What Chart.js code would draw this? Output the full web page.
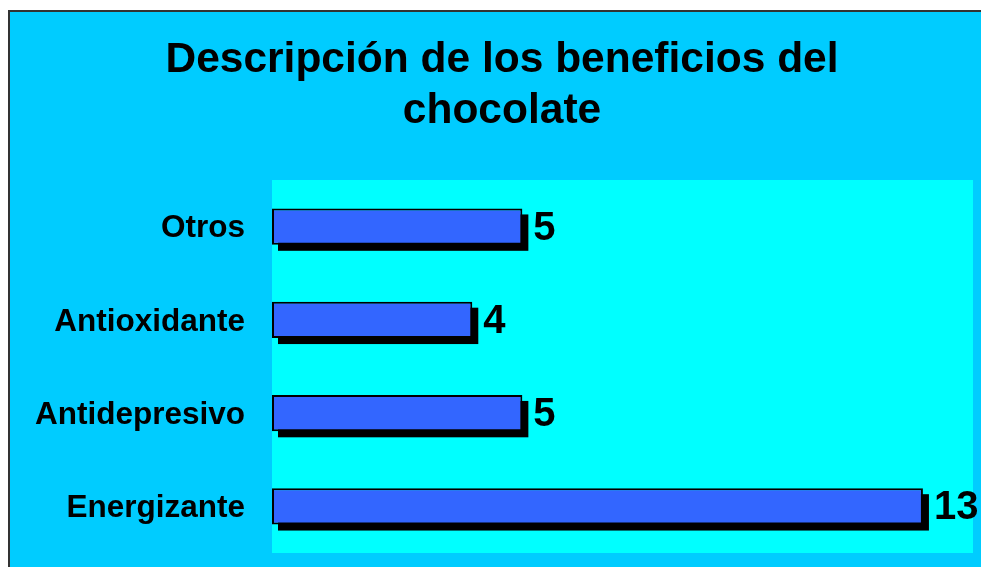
<!DOCTYPE html>
<html>
<head>
<meta charset="utf-8">
<script src="https://cdn.jsdelivr.net/npm/chart.js@4.4.0/dist/chart.umd.min.js"></script>
<style>
  body { margin: 0; background: #ffffff; overflow: hidden; }
  #frame {
    position: absolute; left: 8px; top: 10px;
    width: 971px; height: 555px;
    border-left: 2px solid #333333; border-top: 2px solid #333333;
    background: #00ccff;
  }
  canvas { display: block; }
</style>
</head>
<body>
<div id="frame"><canvas id="beneficios" width="971" height="555" style="width:971px;height:555px"></canvas></div>
<script>
var categorias = ["Otros", "Antioxidante", "Antidepresivo", "Energizante"];
var valores = [5, 4, 5, 13];
var titulo = ["Descripción de los beneficios del", "chocolate"];

// fondo del area de trazado
var fondoPlot = {
    id: 'fondoPlot',
    beforeDraw: function (chart) {
        var a = chart.chartArea;
        var ctx = chart.ctx;
        ctx.save();
        ctx.fillStyle = '#00ffff';
        ctx.fillRect(a.left, a.top, a.right - a.left, a.bottom - a.top);
        ctx.restore();
    }
};

// sombra negra debajo de cada barra
var sombra = {
    id: 'sombra',
    beforeDatasetsDraw: function (chart) {
        var ctx = chart.ctx;
        var meta = chart.getDatasetMeta(0);
        ctx.save();
        ctx.fillStyle = '#000000';
        meta.data.forEach(function (bar) {
            var left = bar.base, right = bar.x;
            var top = bar.y - bar.height / 2;
            ctx.fillRect(left + 6, top + 6, right - left, bar.height);
        });
        ctx.restore();
    }
};

// valores al final de las barras
var etiquetas = {
    id: 'etiquetas',
    afterDatasetsDraw: function (chart) {
        var ctx = chart.ctx;
        var meta = chart.getDatasetMeta(0);
        ctx.save();
        ctx.fillStyle = '#000000';
        ctx.font = 'bold 40px "Liberation Sans", Arial, sans-serif';
        ctx.textAlign = 'left';
        ctx.textBaseline = 'middle';
        meta.data.forEach(function (bar, i) {
            ctx.fillText(String(valores[i]), bar.x + 11, bar.y + 2);
        });
        ctx.restore();
    }
};

var ctx_beneficios = document.getElementById("beneficios");
var grafico = new Chart(ctx_beneficios, {
    type: 'bar',
    data: {
        labels: categorias,
        datasets: [{
            data: valores,
            backgroundColor: '#3366ff',
            borderColor: '#000000',
            borderWidth: 2,
            borderSkipped: false,
            barPercentage: 0.39,
            categoryPercentage: 1
        }]
    },
    options: {
        indexAxis: 'y',
        responsive: false,
        maintainAspectRatio: false,
        animation: false,
        layout: { padding: { left: 21, right: 8, top: 0, bottom: 14 } },
        plugins: {
            legend: { display: false },
            tooltip: { enabled: false },
            title: {
                display: true,
                text: titulo,
                color: '#000000',
                font: { family: '"Liberation Sans", Arial, sans-serif', size: 42.5, weight: 'bold', lineHeight: 1.2 },
                padding: { top: 23, bottom: 43 }
            }
        },
        scales: {
            x: {
                display: false,
                min: 0,
                max: 14
            },
            y: {
                grid: { display: false, drawTicks: false },
                border: { display: false },
                ticks: {
                    color: '#000000',
                    padding: 27,
                    labelOffset: 2,
                    font: { family: '"Liberation Sans", Arial, sans-serif', size: 31.5, weight: 'bold' }
                },
                afterFit: function (scale) {
                    scale.width = 241;
                    scale.paddingTop = 0;
                    scale.paddingBottom = 0;
                }
            }
        }
    },
    plugins: [fondoPlot, sombra, etiquetas]
});
</script>
</body>
</html>
